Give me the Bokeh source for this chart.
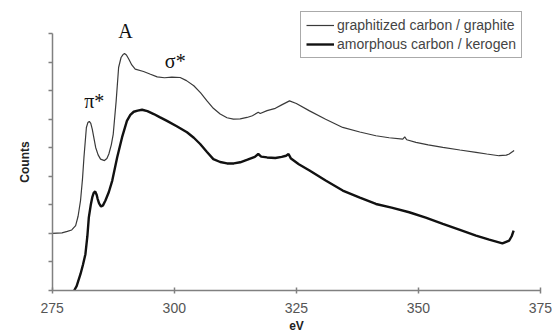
from bokeh.plotting import figure
from bokeh.models import (Range1d, FixedTicker, Legend, LegendItem, Label, LinearAxis)
from bokeh.embed import file_html
from bokeh.resources import INLINE

# ---- data ----
graphite_ev = [275.0, 277.0, 278.1, 279.0, 279.8, 280.3, 280.8, 281.2, 281.5, 282.0,
               282.3, 282.6, 282.9, 283.2, 283.9, 284.4, 284.9, 285.7, 286.2, 286.6,
               287.1, 287.5, 288.1, 288.6, 289.1, 289.5, 289.8, 290.2, 290.7, 291.3,
               292.0, 293.7, 295.0, 296.5, 298.0, 299.5, 301.2, 302.5, 304.0, 305.4,
               306.7, 308.0, 309.4, 310.8, 312.1, 313.5, 314.9, 316.0, 317.2, 317.6,
               319.0, 320.7, 322.0, 323.6, 325.0, 327.7, 331.0, 334.5, 338.0, 341.3,
               344.0, 346.8, 347.2, 347.6, 349.5, 352.0, 355.0, 358.5, 361.8, 364.0,
               366.5, 368.0, 368.6, 369.6]
graphite_counts = [2.00, 2.02, 2.07, 2.12, 2.27, 2.60, 3.15, 3.90, 4.66, 5.71,
                   5.88, 5.92, 5.85, 5.65, 5.01, 4.75, 4.60, 4.55, 4.62, 4.78,
                   5.10, 5.48, 6.64, 7.81, 8.16, 8.26, 8.30, 8.25, 8.10, 7.90,
                   7.75, 7.67, 7.58, 7.48, 7.45, 7.47, 7.46, 7.35, 7.17, 6.92,
                   6.64, 6.38, 6.18, 6.05, 6.00, 6.01, 6.06, 6.12, 6.24, 6.20,
                   6.30, 6.38, 6.50, 6.64, 6.55, 6.29, 6.00, 5.71, 5.55, 5.42,
                   5.35, 5.30, 5.38, 5.28, 5.19, 5.10, 5.01, 4.92, 4.84, 4.78,
                   4.72, 4.74, 4.78, 4.90]

kerogen_ev = [279.5, 280.0, 280.8, 281.3, 281.8, 282.2, 282.5, 282.9, 283.2, 283.5,
              283.8, 284.1, 284.3, 284.6, 285.0, 285.4, 285.9, 286.6, 287.3, 288.3,
              289.3, 290.3, 291.0, 291.7, 292.5, 293.4, 294.5, 295.8, 297.0, 298.5,
              300.5, 302.6, 304.0, 305.3, 306.7, 308.0, 309.4, 310.8, 312.2, 313.5,
              315.0, 316.5, 317.2, 317.8, 319.0, 320.7, 322.0, 322.9, 323.4, 323.9,
              325.5, 327.7, 331.0, 334.5, 338.0, 341.3, 344.5, 348.1, 351.5, 355.0,
              358.5, 361.8, 364.5, 367.2, 368.6, 369.1, 369.5]
kerogen_counts = [0.00, 0.15, 0.58, 0.90, 1.27, 1.90, 2.56, 3.00, 3.26, 3.42,
                  3.47, 3.35, 3.21, 3.05, 2.94, 2.98, 3.15, 3.45, 3.85, 4.66,
                  5.36, 5.94, 6.15, 6.26, 6.30, 6.33, 6.28, 6.18, 6.07, 5.94,
                  5.75, 5.54, 5.35, 5.13, 4.85, 4.60, 4.50, 4.45, 4.45, 4.49,
                  4.58, 4.68, 4.78, 4.69, 4.66, 4.64, 4.68, 4.72, 4.78, 4.62,
                  4.42, 4.20, 3.85, 3.50, 3.25, 3.03, 2.90, 2.74, 2.55, 2.33,
                  2.12, 1.92, 1.78, 1.65, 1.75, 1.90, 2.10]

series_names = ["graphitized carbon / graphite", "amorphous carbon / kerogen"]
x_ticks = [275, 300, 325, 350, 375]
y_ticks = [0, 1, 2, 3, 4, 5, 6, 7, 8, 9]

peak_labels = ["A", "π*", "σ*"]
peak_x = [290.0, 283.6, 300.2]
peak_y = [9.1, 6.64, 8.04]

# ---- figure: the frame fills the whole canvas, axes are fixed in place ----
p = figure(width=552, height=332, output_backend="svg", toolbar_location=None,
           x_range=Range1d(264.41, 377.46), y_range=Range1d(-1.471, 10.156),
           x_axis_location=None, y_axis_location=None, title=None,
           min_border=0)
p.outline_line_color = None
p.grid.visible = False
p.background_fill_color = "white"
p.border_fill_color = "white"

r1 = p.line(graphite_ev, graphite_counts, line_color="#3a3a3a", line_width=1.2)
r2 = p.line(kerogen_ev, kerogen_counts, line_color="#111111", line_width=2.4)

axis_color = "#808080"
xa = LinearAxis(fixed_location=0, bounds=(x_ticks[0], x_ticks[-1]))
xa.ticker = FixedTicker(ticks=x_ticks)
xa.axis_line_color = axis_color
xa.axis_line_width = 1.5
xa.major_tick_line_color = axis_color
xa.major_tick_line_width = 1.5
xa.major_tick_in = 3
xa.major_tick_out = 3
xa.minor_tick_line_color = None
xa.major_label_text_font = "Liberation Sans"
xa.major_label_text_font_size = "14px"
xa.major_label_text_color = "#555555"
xa.major_label_standoff = 10
xa.axis_label = "eV"
xa.axis_label_text_font = "Liberation Sans"
xa.axis_label_text_font_style = "bold"
xa.axis_label_text_font_size = "12px"
xa.axis_label_text_color = "#222222"
xa.axis_label_standoff = 2
p.add_layout(xa, "below")

ya = LinearAxis(fixed_location=x_ticks[0], bounds=(y_ticks[0], y_ticks[-1]))
ya.ticker = FixedTicker(ticks=y_ticks)
ya.axis_line_color = axis_color
ya.axis_line_width = 1.5
ya.major_tick_line_color = axis_color
ya.major_tick_line_width = 1.5
ya.major_tick_in = 0
ya.major_tick_out = 4
ya.minor_tick_line_color = None
ya.major_label_overrides = {t: "" for t in y_ticks}
ya.major_label_standoff = 0
ya.axis_label = "Counts"
ya.axis_label_text_font = "Liberation Sans"
ya.axis_label_text_font_style = "bold"
ya.axis_label_text_font_size = "12px"
ya.axis_label_text_color = "#222222"
ya.axis_label_standoff = 17
p.add_layout(ya, "left")

for t, xv, yv in zip(peak_labels, peak_x, peak_y):
    p.add_layout(Label(x=xv, y=yv, text=t, text_font="Liberation Serif",
                       text_font_size="20px", text_color="#111111",
                       text_align="center", text_baseline="middle"))

legend = Legend(items=[LegendItem(label=series_names[0], renderers=[r1]),
                       LegendItem(label=series_names[1], renderers=[r2])],
                location=(300, 274), orientation="vertical")
legend.padding = 5
legend.spacing = 3
legend.glyph_width = 28
legend.glyph_height = 16
legend.label_height = 16
legend.label_standoff = 3
legend.label_text_font = "Liberation Sans"
legend.label_text_font_size = "14px"
legend.label_text_color = "#444444"
legend.border_line_color = "#555555"
legend.border_line_width = 1
legend.background_fill_color = "white"
legend.background_fill_alpha = 1.0
legend.margin = 0
p.add_layout(legend, "center")

open("out.html", "w").write(file_html(p, INLINE))
